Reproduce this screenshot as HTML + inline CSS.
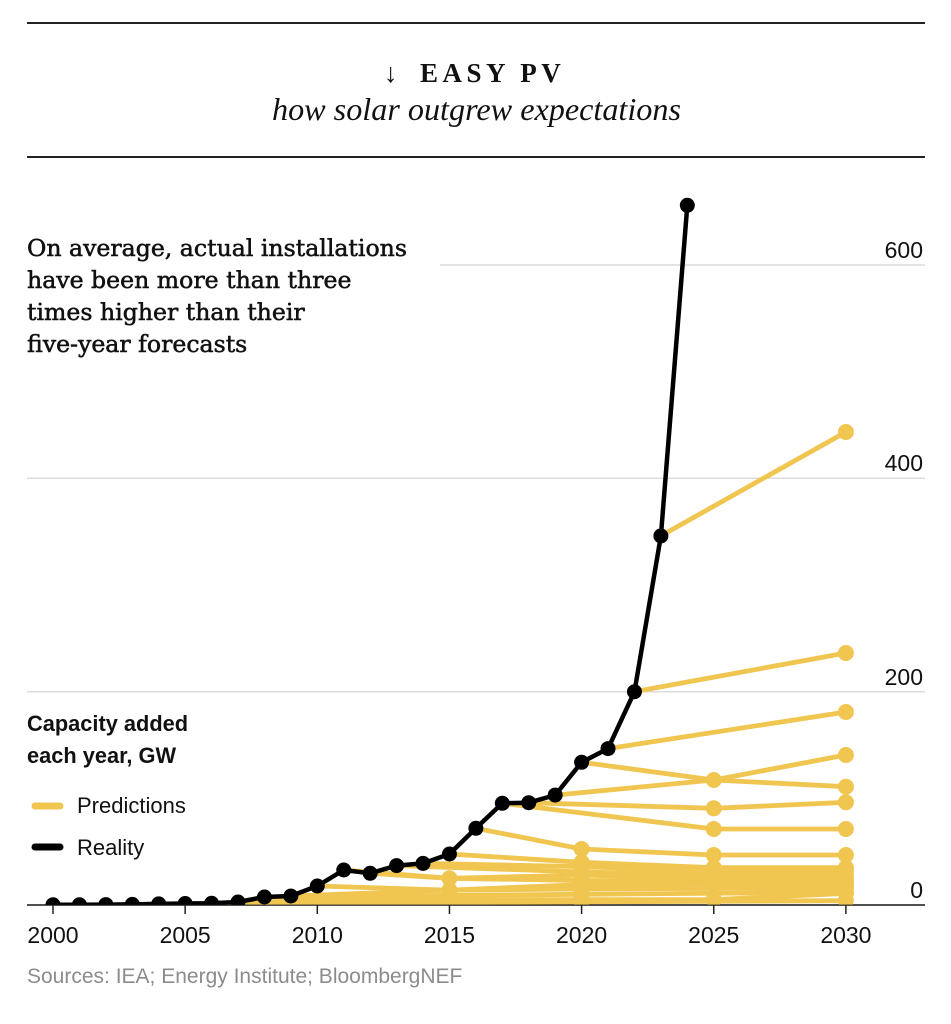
<!DOCTYPE html>
<html><head><meta charset="utf-8"><style>
html,body{margin:0;padding:0;background:#fff;}
svg{display:block;}
</style></head><body>
<svg width="951" height="1024" viewBox="0 0 951 1024" xmlns="http://www.w3.org/2000/svg">
<defs>
<clipPath id="plot"><rect x="0" y="0" width="951" height="905"/></clipPath>
</defs>
<rect width="951" height="1024" fill="#fff"/>

<!-- header rules -->
<line x1="27" y1="23" x2="925" y2="23" stroke="#222" stroke-width="2"/>
<line x1="27" y1="157" x2="925" y2="157" stroke="#222" stroke-width="2"/>

<!-- title -->
<text x="384" y="82" font-family="'Liberation Serif', serif" font-size="27" fill="#111">↓</text>
<text x="420" y="82" font-family="'Liberation Serif', serif" font-weight="bold" font-size="27" letter-spacing="4.5" fill="#111">EASY PV</text>
<text x="272" y="120" font-family="'Liberation Serif', serif" font-style="italic" font-size="32" fill="#111" textLength="409" lengthAdjust="spacingAndGlyphs">how solar outgrew expectations</text>

<!-- annotation -->
<g font-family="'DejaVu Serif', serif" font-size="23.6" fill="#111" stroke="#111" stroke-width="0.55">
<text x="27" y="256">On average, actual installations</text>
<text x="27" y="288">have been more than three</text>
<text x="27" y="320">times higher than their</text>
<text x="27" y="352">five-year forecasts</text>
</g>

<!-- gridlines -->
<g stroke="#dcdcdc" stroke-width="1.5">
<line x1="440" y1="265" x2="925" y2="265"/>
<line x1="27" y1="478.3" x2="925" y2="478.3"/>
<line x1="27" y1="691.7" x2="925" y2="691.7"/>
</g>

<!-- y labels -->
<g font-family="'Liberation Sans', sans-serif" font-size="23" fill="#111" text-anchor="end">
<text x="923" y="258">600</text>
<text x="923" y="471">400</text>
<text x="923" y="685">200</text>
<text x="923" y="898">0</text>
</g>

<!-- legend -->
<g font-family="'Liberation Sans', sans-serif" fill="#111">
<text x="27" y="731" font-size="21.8" font-weight="bold">Capacity added</text>
<text x="27" y="763" font-size="21.8" font-weight="bold">each year, GW</text>
<text x="77" y="813" font-size="22">Predictions</text>
<text x="77" y="855" font-size="22">Reality</text>
</g>
<line x1="35" y1="806" x2="60" y2="806" stroke="#F0C550" stroke-width="7" stroke-linecap="round"/>
<line x1="35" y1="847" x2="60" y2="847" stroke="#000" stroke-width="7" stroke-linecap="round"/>

<!-- axis -->
<line x1="27" y1="905" x2="925" y2="905" stroke="#222" stroke-width="1.5"/>
<g stroke="#222" stroke-width="1.5">
<line x1="53" y1="905" x2="53" y2="914"/>
<line x1="185.15" y1="905" x2="185.15" y2="914"/>
<line x1="317.3" y1="905" x2="317.3" y2="914"/>
<line x1="449.45" y1="905" x2="449.45" y2="914"/>
<line x1="581.6" y1="905" x2="581.6" y2="914"/>
<line x1="713.75" y1="905" x2="713.75" y2="914"/>
<line x1="845.9" y1="905" x2="845.9" y2="914"/>
</g>
<g font-family="'Liberation Sans', sans-serif" font-size="23" fill="#111" text-anchor="middle">
<text x="53" y="943">2000</text>
<text x="185.15" y="943">2005</text>
<text x="317.3" y="943">2010</text>
<text x="449.45" y="943">2015</text>
<text x="581.6" y="943">2020</text>
<text x="713.75" y="943">2025</text>
<text x="845.9" y="943">2030</text>
</g>

<text x="27" y="983" font-family="'Liberation Sans', sans-serif" font-size="21" fill="#8c8c8c">Sources: IEA; Energy Institute; BloombergNEF</text>

<g clip-path="url(#plot)">
<!-- predictions -->
<g fill="none" stroke="#F0C550" stroke-width="4.8" stroke-linecap="round" stroke-linejoin="round">
<polyline points="660.89,535.9 845.9,432"/>
<polyline points="634.46,691.7 845.9,653"/>
<polyline points="608.03,748.6 845.9,712"/>
<polyline points="581.6,762.3 713.75,780 845.9,786.7"/>
<polyline points="555.17,795.1 713.75,780 845.9,755"/>
<polyline points="528.74,802.7 713.75,808.3 845.9,802.3"/>
<polyline points="502.31,803.3 713.75,829 845.9,829"/>
<polyline points="475.88,828.3 581.6,849 713.75,855 845.9,855"/>
<polyline points="449.45,854 581.6,862.3 713.75,867.7 845.9,867.7"/>
<polyline points="423.02,863.4 581.6,866.6 713.75,871.9 845.9,870.9"/>
<polyline points="396.59,865.6 581.6,871.9 713.75,875.1 845.9,875.1"/>
<polyline points="370.16,873.3 449.45,878.3 581.6,875.1 713.75,878.3 845.9,878.3"/>
<polyline points="343.73,870 449.45,878.3 581.6,880.5 845.9,881.5"/>
<polyline points="317.3,886 449.45,890.1 581.6,884.7 713.75,883.7 845.9,884.7"/>
<polyline points="290.87,896 449.45,890.1 581.6,889 845.9,887.9"/>
<polyline points="264.44,897 449.45,895.4 581.6,894.3 845.9,892.2"/>
<polyline points="238.01,902 449.45,899.7 581.6,899.7 713.75,899.7 845.9,893.3"/>
<polyline points="211.58,903.3 449.45,902.9 581.6,901.8 845.9,900.7"/>
</g>
<g fill="#F0C550">
<circle cx="845.9" cy="432" r="8"/>
<circle cx="845.9" cy="653" r="8"/>
<circle cx="845.9" cy="712" r="8"/>
<circle cx="713.75" cy="780" r="8"/><circle cx="845.9" cy="786.7" r="8"/>
<circle cx="845.9" cy="755" r="8"/>
<circle cx="713.75" cy="808.3" r="8"/><circle cx="845.9" cy="802.3" r="8"/>
<circle cx="713.75" cy="829" r="8"/><circle cx="845.9" cy="829" r="8"/>
<circle cx="581.6" cy="849" r="8"/><circle cx="713.75" cy="855" r="8"/><circle cx="845.9" cy="855" r="8"/>
<circle cx="581.6" cy="862.3" r="8"/><circle cx="713.75" cy="867.7" r="8"/><circle cx="845.9" cy="867.7" r="8"/>
<circle cx="581.6" cy="866.6" r="8"/><circle cx="713.75" cy="871.9" r="8"/><circle cx="845.9" cy="870.9" r="8"/>
<circle cx="581.6" cy="871.9" r="8"/><circle cx="713.75" cy="875.1" r="8"/><circle cx="845.9" cy="875.1" r="8"/>
<circle cx="449.45" cy="878.3" r="8"/><circle cx="581.6" cy="875.1" r="8"/><circle cx="713.75" cy="878.3" r="8"/><circle cx="845.9" cy="878.3" r="8"/>
<circle cx="581.6" cy="880.5" r="8"/><circle cx="845.9" cy="881.5" r="8"/>
<circle cx="449.45" cy="890.1" r="8"/><circle cx="581.6" cy="884.7" r="8"/><circle cx="713.75" cy="883.7" r="8"/><circle cx="845.9" cy="884.7" r="8"/>
<circle cx="581.6" cy="889" r="8"/><circle cx="845.9" cy="887.9" r="8"/>
<circle cx="449.45" cy="895.4" r="8"/><circle cx="581.6" cy="894.3" r="8"/><circle cx="845.9" cy="892.2" r="8"/>
<circle cx="449.45" cy="899.7" r="8"/><circle cx="581.6" cy="899.7" r="8"/><circle cx="713.75" cy="899.7" r="8"/><circle cx="845.9" cy="893.3" r="8"/>
<circle cx="449.45" cy="902.9" r="8"/><circle cx="581.6" cy="901.8" r="8"/><circle cx="845.9" cy="900.7" r="8"/>
</g>

<!-- reality -->
<polyline fill="none" stroke="#000" stroke-width="4.5" stroke-linejoin="round" stroke-linecap="round"
points="53,904.8 79.43,904.7 105.86,904.6 132.29,904.4 158.72,903.9 185.15,903.5 211.58,903.3 238.01,902 264.44,897 290.87,896 317.3,886 343.73,870 370.16,873.3 396.59,865.6 423.02,863.4 449.45,854 475.88,828.3 502.31,803.3 528.74,802.7 555.17,795.1 581.6,762.3 608.03,748.6 634.46,691.7 660.89,535.9 687.32,205.3"/>
<g fill="#000">
<circle cx="53" cy="904.8" r="7.5"/>
<circle cx="79.43" cy="904.7" r="7.5"/>
<circle cx="105.86" cy="904.6" r="7.5"/>
<circle cx="132.29" cy="904.4" r="7.5"/>
<circle cx="158.72" cy="903.9" r="7.5"/>
<circle cx="185.15" cy="903.5" r="7.5"/>
<circle cx="211.58" cy="903.3" r="7.5"/>
<circle cx="238.01" cy="902" r="7.5"/>
<circle cx="264.44" cy="897" r="7.5"/>
<circle cx="290.87" cy="896" r="7.5"/>
<circle cx="317.3" cy="886" r="7.5"/>
<circle cx="343.73" cy="870" r="7.5"/>
<circle cx="370.16" cy="873.3" r="7.5"/>
<circle cx="396.59" cy="865.6" r="7.5"/>
<circle cx="423.02" cy="863.4" r="7.5"/>
<circle cx="449.45" cy="854" r="7.5"/>
<circle cx="475.88" cy="828.3" r="7.5"/>
<circle cx="502.31" cy="803.3" r="7.5"/>
<circle cx="528.74" cy="802.7" r="7.5"/>
<circle cx="555.17" cy="795.1" r="7.5"/>
<circle cx="581.6" cy="762.3" r="7.5"/>
<circle cx="608.03" cy="748.6" r="7.5"/>
<circle cx="634.46" cy="691.7" r="7.5"/>
<circle cx="660.89" cy="535.9" r="7.5"/>
<circle cx="687.32" cy="205.3" r="7.5"/>
</g>
</g>
<line x1="27" y1="905" x2="925" y2="905" stroke="#222" stroke-width="1.2" opacity="0.6"/>
</svg>
</body></html>
